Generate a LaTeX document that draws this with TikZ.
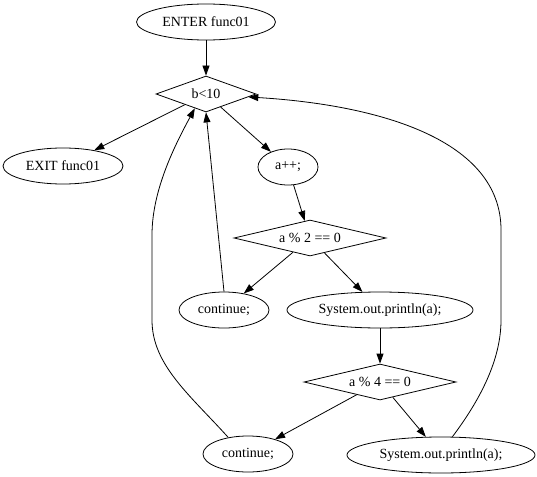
\documentclass[tikz,border=0pt]{standalone}
\usepackage{fontspec}
\setmainfont{Liberation Serif}
\usetikzlibrary{shapes.geometric,arrows.meta}
\begin{document}
\begin{tikzpicture}[x=1pt,y=-1pt,
  every node/.style={font=\fontsize{14}{16}\selectfont, inner sep=0pt, draw, line width=0.8pt},
  oval/.style={ellipse, minimum height=36pt},
  cond/.style={diamond, shape aspect=4.2, minimum height=36pt},
  edge/.style={line width=0.8pt, -{Triangle[length=10pt,width=7pt]}}]
\useasboundingbox (0,0) rectangle (537,476);
\node[oval, minimum width=139pt] (enter) at (206,22) {ENTER func01};
\node[cond, minimum width=100pt] (b) at (206,94) {b<10};
\node[oval, minimum width=120pt] (exit) at (63,166) {EXIT func01};
\node[oval, minimum width=60pt] (app) at (288,167) {a++;};
\node[cond, minimum width=152pt] (m2) at (310,238) {a \% 2 == 0};
\node[oval, minimum width=90pt] (c1) at (224,310) {continue;};
\node[oval, minimum width=186pt] (p1) at (380,310) {System.out.println(a);};
\node[cond, minimum width=152pt] (m4) at (380,382) {a \% 4 == 0};
\node[oval, minimum width=90pt] (c2) at (248,454) {continue;};
\node[oval, minimum width=188pt] (p2) at (441,455) {System.out.println(a);};

\draw[edge] (enter) -- (b);
\draw[edge] (b) -- (exit);
\draw[edge] (b) -- (app);
\draw[edge] (app) -- (m2);
\draw[edge] (m2) -- (c1);
\draw[edge] (m2) -- (p1);
\draw[edge] (c1.north) -- (b.south);
\draw[edge] (p1) -- (m4);
\draw[edge] (m4) -- (c2);
\draw[edge] (m4) -- (p2);
\draw[edge] (c2.140) .. controls (190,395) and (152,365) .. (152,320) -- (152,235) .. controls (152,190) and (175,145) .. (b.232);
\draw[edge] (p2.58) .. controls (480,400) and (501,360) .. (501,320) -- (501,230) .. controls (501,140) and (380,105) .. (b.-4);
\end{tikzpicture}
\end{document}
